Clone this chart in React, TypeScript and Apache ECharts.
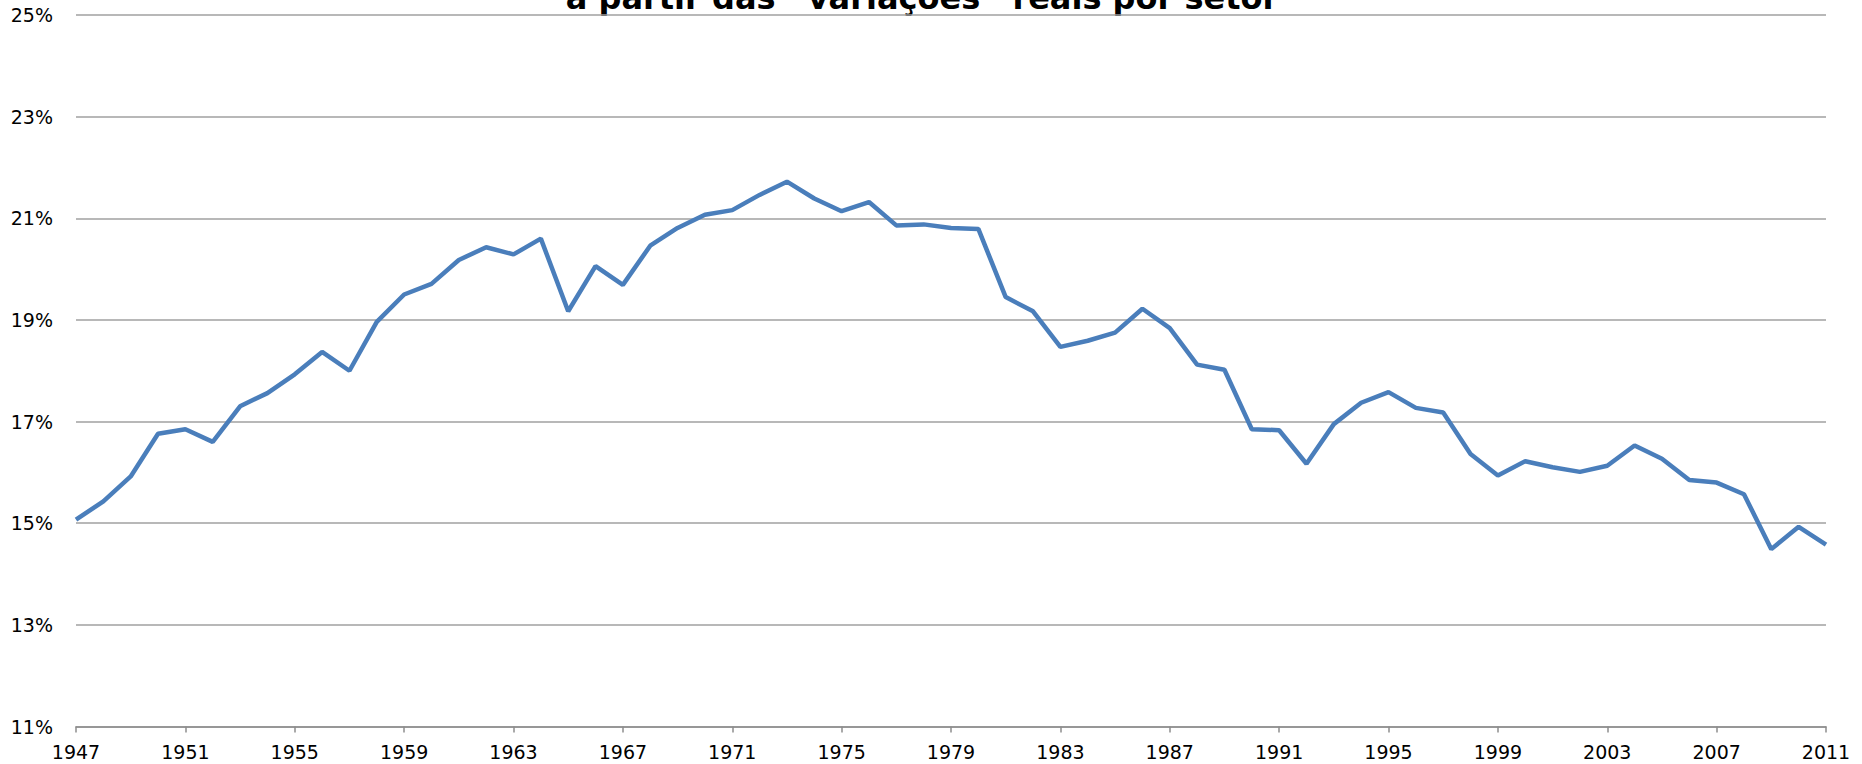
import React, { useEffect, useRef } from "react";
import * as echarts from "echarts";

const years: string[] = [
  "1947","1948","1949","1950","1951","1952","1953","1954","1955","1956",
  "1957","1958","1959","1960","1961","1962","1963","1964","1965","1966",
  "1967","1968","1969","1970","1971","1972","1973","1974","1975","1976",
  "1977","1978","1979","1980","1981","1982","1983","1984","1985","1986",
  "1987","1988","1989","1990","1991","1992","1993","1994","1995","1996",
  "1997","1998","1999","2000","2001","2002","2003","2004","2005","2006",
  "2007","2008","2009","2010","2011",
];

const share: number[] = [
  15.07, 15.43, 15.92, 16.76, 16.85, 16.6, 17.3, 17.56, 17.93, 18.37,
  18.0, 18.96, 19.5, 19.71, 20.18, 20.43, 20.29, 20.6, 19.17, 20.06,
  19.69, 20.46, 20.81, 21.07, 21.16, 21.46, 21.72, 21.39, 21.14, 21.32,
  20.86, 20.88, 20.81, 20.79, 19.45, 19.17, 18.47, 18.59, 18.75, 19.22,
  18.84, 18.12, 18.02, 16.85, 16.83, 16.17, 16.95, 17.37, 17.58, 17.27,
  17.18, 16.36, 15.94, 16.22, 16.1, 16.01, 16.13, 16.53, 16.27, 15.85,
  15.8, 15.57, 14.49, 14.93, 14.58,
];

const titleLine = "a partir das “variações” reais por setor";

export default function App() {
  const ref = useRef<HTMLDivElement>(null);
  useEffect(() => {
    document.body.style.margin = "0";
    document.body.style.overflow = "hidden";
    const chart = echarts.init(ref.current!, null, { renderer: "svg" });
    chart.setOption({
      animation: false,
      backgroundColor: "#ffffff",
      graphic: [
        {
          type: "text",
          x: 922,
          y: -2.5,
          style: {
            text: titleLine,
            font: "bold 32px 'DejaVu Sans'",
            fill: "#000000",
            align: "center",
            verticalAlign: "middle",
          },
        },
      ],
      grid: { left: 76, right: 36, top: 15, bottom: 37.5, containLabel: false },
      xAxis: {
        type: "category",
        data: years,
        boundaryGap: false,
        axisLine: { show: true, lineStyle: { color: "#8c8c8c", width: 1.5 } },
        axisTick: { show: true, interval: 3, length: 6, lineStyle: { color: "#8c8c8c", width: 1.5 } },
        axisLabel: {
          interval: 3,
          margin: 16,
          color: "#000000",
          fontFamily: "DejaVu Sans",
          fontSize: 19,
        },
        splitLine: { show: false },
      },
      yAxis: {
        type: "value",
        min: 11,
        max: 25,
        interval: 2,
        axisLine: { show: false },
        axisTick: { show: false },
        axisLabel: {
          formatter: "{value}%",
          margin: 23,
          color: "#000000",
          fontFamily: "DejaVu Sans",
          fontSize: 19,
        },
        splitLine: { show: true, lineStyle: { color: "#a0a0a0", width: 1.5 } },
      },
      series: [
        {
          type: "line",
          data: share,
          symbol: "none",
          lineStyle: { color: "#4a7ebb", width: 4.5 },
          itemStyle: { color: "#4a7ebb" },
        },
      ],
    });
    return () => chart.dispose();
  }, []);
  return <div ref={ref} style={{ width: 1862, height: 764 }} />;
}
